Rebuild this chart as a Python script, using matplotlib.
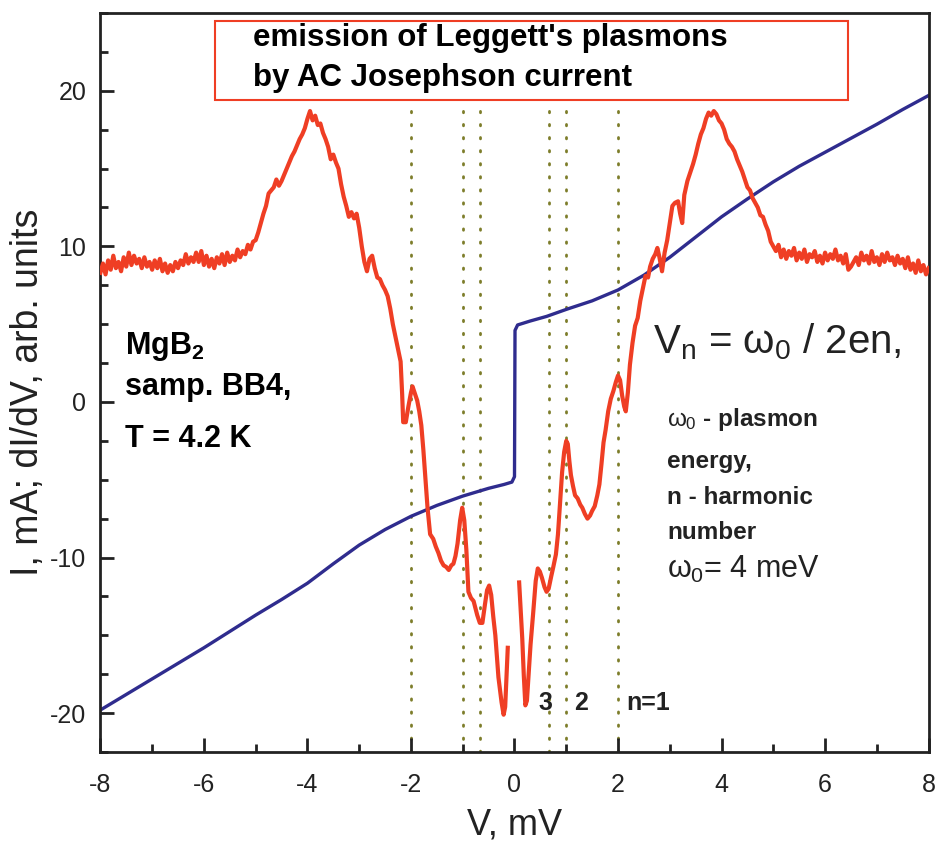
"""
MgB2 break junction: I(V) and dI/dV with Leggett plasmon harmonics
"""

import numpy as np
import matplotlib
matplotlib.use('Agg')
import matplotlib.pyplot as plt
import matplotlib.ticker as ticker
from matplotlib.patches import Rectangle

# ==================== Data ====================
# I(V) curve, mA
IV_V = [-8.0, -7.0, -6.0, -5.0, -4.5, -4.0, -3.5, -3.0, -2.5, -2.0, -1.5, -1.0,
        -0.5, -0.2, -0.05, 0.0, 0.01, 0.06, 0.3, 0.62, 1.0, 1.5, 2.0, 2.5, 3.0,
        3.5, 4.0, 4.5, 5.0, 5.5, 6.0, 6.5, 7.0, 7.5, 8.0]
IV_I = [-19.8, -17.8, -15.8, -13.7, -12.7, -11.65, -10.4, -9.2, -8.2, -7.35, -6.65, -6.05,
        -5.55, -5.3, -5.15, -4.8, 4.6, 4.95, 5.2, 5.5, 5.95, 6.5, 7.2, 8.15, 9.3,
        10.6, 11.9, 13.05, 14.15, 15.15, 16.05, 16.95, 17.85, 18.8, 19.7]

# dI/dV, arb. units (NaN marks the break in the trace near zero bias)
DIDV_V = [
    -8.00, -7.95, -7.90, -7.85, -7.80, -7.75, -7.70, -7.65, -7.60, -7.55, -7.50, -7.45,
    -7.40, -7.35, -7.30, -7.25, -7.20, -7.15, -7.10, -7.05, -7.00, -6.95, -6.90, -6.85,
    -6.80, -6.75, -6.70, -6.65, -6.60, -6.55, -6.50, -6.45, -6.40, -6.35, -6.30, -6.25,
    -6.20, -6.15, -6.10, -6.05, -6.00, -5.95, -5.90, -5.85, -5.80, -5.75, -5.70, -5.65,
    -5.60, -5.55, -5.50, -5.45, -5.40, -5.35, -5.30, -5.25, -5.20, -5.15, -5.10, -5.05,
    -5.00, -4.95, -4.90, -4.85, -4.80, -4.75, -4.70, -4.65, -4.60, -4.55, -4.50, -4.45,
    -4.40, -4.35, -4.30, -4.25, -4.20, -4.15, -4.10, -4.05, -4.00, -3.95, -3.90, -3.85,
    -3.80, -3.75, -3.70, -3.65, -3.60, -3.55, -3.50, -3.45, -3.40, -3.35, -3.30, -3.25,
    -3.20, -3.15, -3.10, -3.05, -3.00, -2.95, -2.90, -2.85, -2.80, -2.75, -2.70, -2.65,
    -2.60, -2.55, -2.50, -2.45, -2.40, -2.35, -2.30, -2.25, -2.20, -2.17, -2.15, -2.10,
    -2.05, -2.00, -1.97, -1.93, -1.88, -1.84, -1.80, -1.76, -1.72, -1.68, -1.63, -1.57,
    -1.52, -1.47, -1.42, -1.37, -1.32, -1.27, -1.22, -1.18, -1.14, -1.10, -1.05, -1.01,
    -0.97, -0.93, -0.89, -0.84, -0.79, -0.75, -0.72, -0.67, -0.62, -0.57, -0.53, -0.49,
    -0.45, -0.41, -0.37, -0.31, -0.25, -0.21, -0.18, -0.16, -0.13, 0.00,
    0.09, 0.12, 0.15, 0.18, 0.21, 0.24, 0.27, 0.31, 0.36, 0.41, 0.45, 0.49,
    0.53, 0.58, 0.62, 0.66, 0.71, 0.75, 0.80, 0.84, 0.88, 0.92, 0.96, 1.00,
    1.03, 1.06, 1.09, 1.13, 1.17, 1.22, 1.27, 1.31, 1.36, 1.41, 1.46, 1.50,
    1.55, 1.60, 1.64, 1.68, 1.72, 1.76, 1.81, 1.86, 1.91, 1.96, 2.00, 2.04,
    2.08, 2.12, 2.15, 2.19, 2.23, 2.28, 2.33, 2.38, 2.43, 2.48, 2.53, 2.58,
    2.62, 2.67, 2.72, 2.76, 2.80, 2.85, 2.90, 2.95, 3.00, 3.05, 3.10, 3.16,
    3.20, 3.24, 3.28, 3.34, 3.40, 3.45, 3.50, 3.55, 3.60, 3.65, 3.70, 3.75,
    3.80, 3.85, 3.90, 3.95, 4.00, 4.05, 4.10, 4.15, 4.20, 4.25, 4.30, 4.35,
    4.40, 4.45, 4.50, 4.55, 4.60, 4.65, 4.70, 4.75, 4.80, 4.85, 4.90, 4.95,
    5.00, 5.05, 5.10, 5.15, 5.20, 5.25, 5.30, 5.35, 5.40, 5.45, 5.50, 5.55,
    5.60, 5.65, 5.70, 5.75, 5.80, 5.85, 5.90, 5.95, 6.00, 6.05, 6.10, 6.15,
    6.20, 6.25, 6.30, 6.35, 6.40, 6.45, 6.50, 6.55, 6.60, 6.65, 6.70, 6.75,
    6.80, 6.85, 6.90, 6.95, 7.00, 7.05, 7.10, 7.15, 7.20, 7.25, 7.30, 7.35,
    7.40, 7.45, 7.50, 7.55, 7.60, 7.65, 7.70, 7.75, 7.80, 7.85, 7.90, 7.95, 8.00,
]
DIDV = [
    8.3, 8.9, 8.2, 9.1, 8.5, 9.4, 8.6, 9.0, 8.4, 9.3, 8.7, 9.6,
    8.8, 9.4, 8.9, 9.2, 8.6, 9.3, 8.7, 9.0, 8.5, 9.1, 8.6, 9.2,
    8.4, 8.9, 8.3, 8.8, 8.4, 9.0, 8.6, 9.1, 8.8, 9.5, 8.9, 9.3,
    9.0, 9.6, 9.0, 9.7, 8.8, 9.4, 8.7, 9.2, 8.6, 9.3, 8.9, 9.5,
    8.8, 9.6, 9.0, 9.4, 9.1, 9.8, 9.3, 9.7, 9.5, 10.1, 9.8, 10.3,
    10.4, 10.9, 11.5, 12.1, 12.6, 13.4, 13.6, 13.8, 14.3, 13.9, 14.2, 14.6,
    15.0, 15.4, 15.8, 16.1, 16.5, 16.9, 17.2, 17.6, 18.2, 18.7, 18.1, 18.4,
    17.8, 17.9, 17.3, 16.9, 16.4, 15.6, 15.9, 15.4, 15.0, 14.0, 13.2, 12.6,
    11.9, 12.2, 11.8, 12.1, 11.2, 10.0, 9.0, 8.4, 9.2, 9.4, 8.6, 8.0,
    7.9, 7.5, 7.2, 6.8, 6.0, 5.0, 4.2, 3.4, 2.6, 0.5, -1.3, -1.3,
    -0.3, 0.6, 1.0, 0.6, 0.1, -0.6, -1.5, -3.1, -5.0, -6.8, -8.5, -8.8,
    -9.3, -9.7, -10.2, -10.5, -10.6, -10.8, -10.5, -10.4, -9.9, -9.1, -7.6, -6.8,
    -7.6, -9.5, -12.2, -12.6, -12.8, -13.3, -13.7, -14.2, -14.2, -13.0, -12.1, -11.8,
    -12.4, -13.8, -15.0, -17.7, -19.3, -20.1, -19.6, -18.1, -15.8, np.nan,
    -11.6, -13.4, -15.2, -17.6, -19.5, -19.2, -17.7, -15.6, -13.6, -11.5, -10.7, -10.9,
    -11.3, -11.9, -12.2, -12.0, -11.2, -10.6, -9.8, -8.5, -6.5, -4.5, -3.2, -2.5,
    -2.7, -3.8, -4.7, -5.4, -6.0, -6.2, -6.6, -6.8, -7.2, -7.5, -7.3, -7.0,
    -6.7, -6.0, -5.3, -4.0, -2.6, -1.8, -0.6, 0.2, 0.7, 1.3, 1.7, 1.4,
    0.4, -0.3, -0.6, 0.6, 2.4, 3.8, 4.9, 5.4, 6.5, 7.3, 8.1, 8.0,
    8.7, 9.2, 9.5, 9.9, 9.3, 8.4, 9.6, 10.4, 11.5, 12.6, 12.8, 12.9,
    12.1, 11.5, 13.3, 14.2, 14.8, 15.3, 15.9, 16.6, 17.2, 17.6, 18.2, 18.6,
    18.4, 18.7, 18.5, 18.1, 17.9, 17.5, 16.9, 16.6, 16.4, 16.1, 15.6, 15.2,
    14.8, 14.3, 13.8, 13.6, 13.1, 12.8, 12.5, 12.0, 11.9, 11.4, 11.0, 10.3,
    10.0, 9.7, 10.1, 9.3, 9.8, 9.2, 9.7, 9.4, 9.9, 9.1, 9.6, 9.2,
    9.8, 9.0, 9.5, 9.3, 9.7, 9.0, 9.4, 8.9, 9.6, 9.1, 9.5, 9.2,
    9.8, 9.1, 9.4, 8.9, 9.5, 8.5, 8.7, 9.0, 9.3, 8.8, 9.6, 9.1,
    9.4, 8.9, 9.7, 9.0, 9.3, 8.8, 9.5, 9.0, 9.6, 9.1, 9.3, 8.8,
    9.4, 8.9, 9.2, 8.6, 9.3, 8.5, 8.9, 8.3, 9.1, 8.4, 8.8, 8.2, 8.6,
]

# Harmonic voltages V_n = w0 / 2en for w0 = 4 meV, n = 1..3
HARMONIC_V = [-2.0, -1.0, -0.667, 0.667, 1.0, 2.0]

# ==================== Style ====================
plt.rcParams.update({
    'font.family': ['Liberation Sans', 'DejaVu Sans'],
    'mathtext.fontset': 'custom',
    'mathtext.rm': 'Liberation Sans',
    'mathtext.it': 'Liberation Sans',
    'mathtext.bf': 'Liberation Sans:bold',
    'axes.unicode_minus': False,
    'axes.linewidth': 2.0,
})

RED = '#ef3e24'
BLUE = '#2f2c8e'
OLIVE = '#7d7d2a'
INK = '#222222'

fig = plt.figure(figsize=(9.38, 8.51), dpi=100)
ax = fig.add_axes([0.107, 0.1163, 0.883, 0.8684])

# harmonic markers (dotted verticals)
for v in HARMONIC_V:
    ax.axvline(v, ymin=0.0, ymax=0.878, color=OLIVE, linewidth=2.0,
               linestyle=(0, (0.5, 4.2)), dash_capstyle='round', zorder=1)

ax.plot(DIDV_V, DIDV, color=RED, linewidth=3.0, zorder=3)
ax.plot(IV_V, IV_I, color=BLUE, linewidth=2.4, zorder=2)

ax.set_xlim(-8, 8)
ax.set_ylim(-22.5, 25)

ax.xaxis.set_major_locator(ticker.MultipleLocator(2))
ax.xaxis.set_minor_locator(ticker.MultipleLocator(1))
ax.yaxis.set_major_locator(ticker.FixedLocator([-20, -10, 0, 10, 20]))
ax.yaxis.set_minor_locator(ticker.MultipleLocator(2.5))
ax.tick_params(which='both', direction='in', top=False, right=False,
               color=INK, width=2.0, labelcolor=INK, labelsize=18)
ax.tick_params(which='major', length=10)
ax.tick_params(which='minor', length=5.5)
ax.tick_params(axis='x', pad=15)
ax.tick_params(axis='y', pad=10)
for sp in ax.spines.values():
    sp.set_color(INK)

ax.set_xlabel('V, mV', fontsize=26, color=INK, labelpad=8)
ax.set_ylabel('I, mA; dI/dV, arb. units', fontsize=27, color=INK)
ax.yaxis.set_label_coords(-0.066, 0.487)

# title box
ax.add_patch(Rectangle((-5.79, 19.42), 12.23, 5.08, fill=False,
                       edgecolor=RED, linewidth=1.5, zorder=4))
ax.text(-5.05, 23.4, "emission of Leggett's plasmons", fontsize=22.5,
        fontweight='bold', va='center', ha='left', color='black')
ax.text(-5.05, 20.85, "by AC Josephson current", fontsize=22.5,
        fontweight='bold', va='center', ha='left', color='black')

# sample info
ax.text(-7.52, 3.1, r'MgB$_\mathbf{2}$', fontsize=22, fontweight='bold',
        va='baseline', color='black')
ax.text(-7.52, 0.45, 'samp. BB4,', fontsize=22, fontweight='bold',
        va='baseline', color='black')
ax.text(-7.52, -2.9, 'T = 4.2 K', fontsize=22, fontweight='bold',
        va='baseline', color='black')

# formula and legend text on the right
ax.text(2.68, 3.1, r'V$_\mathrm{n}$ = $\omega_0$ / 2en,', fontsize=29,
        va='baseline', color=INK)
ax.text(2.95, -1.55, r'$\omega_0$ - plasmon', fontsize=17.5, fontweight='bold',
        va='baseline', color=INK)
ax.text(2.95, -4.25, 'energy,', fontsize=17.5, fontweight='bold',
        va='baseline', color=INK)
ax.text(2.95, -6.55, 'n - harmonic', fontsize=17.5, fontweight='bold',
        va='baseline', color=INK)
ax.text(2.95, -8.8, 'number', fontsize=17.5, fontweight='bold',
        va='baseline', color=INK)
ax.text(2.95, -11.3, r'$\omega_0$= 4 meV', fontsize=22,
        va='baseline', color=INK)

# harmonic labels
ax.text(0.46, -19.8, '3', fontsize=18, fontweight='bold', va='baseline', color=INK)
ax.text(1.15, -19.8, '2', fontsize=18, fontweight='bold', va='baseline', color=INK)
ax.text(2.15, -19.8, 'n=1', fontsize=18, fontweight='bold', va='baseline', color=INK)

plt.savefig('out.png', dpi=100, facecolor='white')
plt.close()
